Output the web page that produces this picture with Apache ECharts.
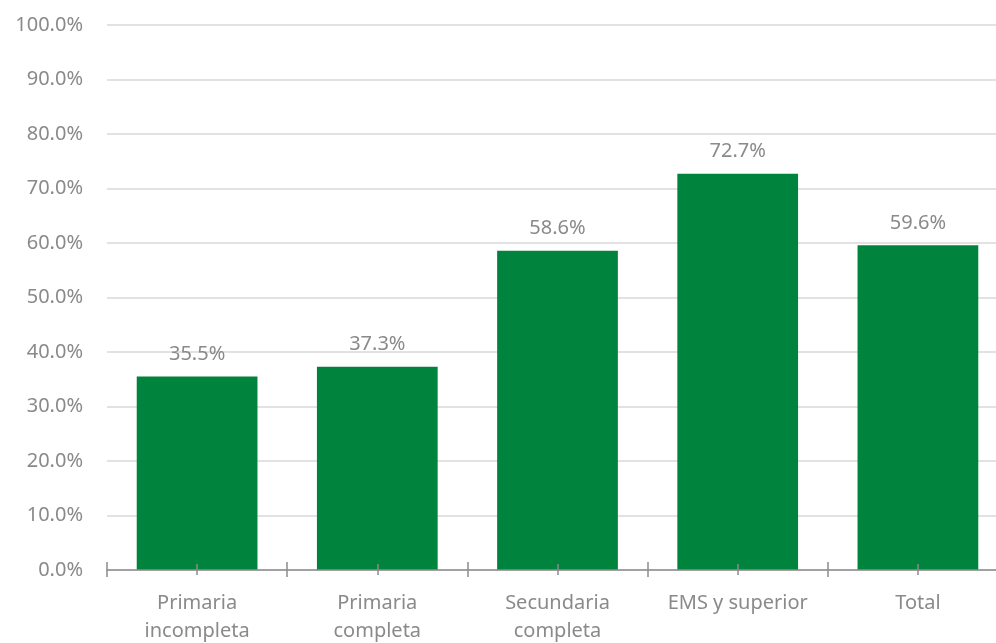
<!DOCTYPE html>
<html>
<head>
<meta charset="utf-8">
<script src="https://cdn.jsdelivr.net/npm/echarts@6/dist/echarts.min.js"></script>
<style>
  html, body { margin: 0; padding: 0; background: #fff; }
  #chart { width: 996px; height: 643px; }
</style>
</head>
<body>
<div id="chart"></div>
<script>
const categories = ['Primaria\nincompleta', 'Primaria\ncompleta', 'Secundaria\ncompleta', 'EMS y superior', 'Total'];
const values = [35.5, 37.3, 58.6, 72.7, 59.6];
const yMin = 0;
const yMax = 100;
const yStep = 10;

const FONT = '"Noto Sans", sans-serif';
const GREY = '#8a8a8a';
const AXIS = '#8c8c8c';

// Helper for the extra tick-only category axes layered on the bottom edge
function tickAxis(alignWithLabel, inside, length) {
  return {
    type: 'category',
    position: 'bottom',
    data: categories,
    z: 5,
    axisLine: { show: false },
    axisLabel: { show: false },
    axisTick: { show: true, alignWithLabel: alignWithLabel, inside: inside, length: length,
                interval: 0, lineStyle: { color: AXIS, width: 1.5 } },
    splitLine: { show: false }
  };
}

const chart = echarts.init(document.getElementById('chart'));
chart.setOption({
  animation: false,
  backgroundColor: '#fff',
  grid: { left: 107, right: -12, top: 25, bottom: 73, outerBoundsMode: 'none', containLabel: false },
  xAxis: [
    {
      type: 'category',
      position: 'bottom',
      data: categories,
      z: 5,
      axisLine: { show: true, lineStyle: { color: AXIS, width: 1.5 } },
      axisTick: { show: true, alignWithLabel: false, interval: 0, length: 7, lineStyle: { color: AXIS, width: 1.5 } },
      axisLabel: { color: GREY, fontFamily: FONT, fontSize: 20, lineHeight: 28, margin: 19,
                   interval: 0, hideOverlap: false }
    },
    tickAxis(false, true, 8),
    tickAxis(true, false, 5),
    tickAxis(true, true, 6)
  ],
  yAxis: {
    type: 'value',
    min: yMin,
    max: yMax,
    interval: yStep,
    axisLine: { show: false },
    axisTick: { show: false },
    axisLabel: {
      color: GREY, fontFamily: FONT, fontSize: 20, margin: 24,
      formatter: v => v.toFixed(1) + '%'
    },
    splitLine: { lineStyle: { color: '#d9d9d9', width: 1.5 } }
  },
  series: [{
    type: 'bar',
    xAxisIndex: 0,
    data: values,
    barWidth: '67%',
    itemStyle: { color: '#00843d' },
    label: {
      show: true,
      position: 'top',
      distance: 12,
      color: GREY,
      fontFamily: FONT,
      fontSize: 20,
      formatter: p => p.value.toFixed(1) + '%'
    }
  }]
});
</script>
</body>
</html>
